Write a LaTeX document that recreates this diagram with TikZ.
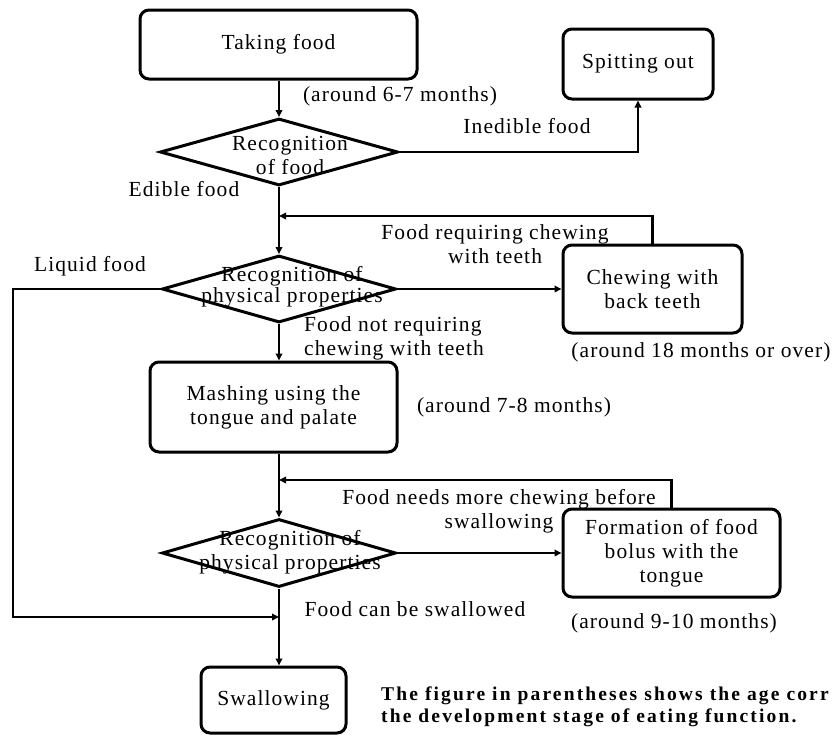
\documentclass[tikz,border=0pt]{standalone}
\usepackage{fontspec}
\setmainfont{Liberation Serif}[LetterSpace=5]
\usetikzlibrary{shapes.geometric,arrows.meta}
\begin{document}
\begin{tikzpicture}[x=1pt,y=-1pt,
  every node/.style={font=\fontsize{21.5}{24}\selectfont, inner sep=0pt},
  box/.style={draw, line width=3pt, rounded corners=9pt, align=center},
  diam/.style={draw, diamond, line width=3pt, inner sep=0pt},
  dtext/.style={align=center},
  lbl/.style={align=center},
  conn/.style={line width=2.8pt, -{Triangle[length=7pt,width=6.5pt]}}
]
\useasboundingbox[fill=white] (0,0) rectangle (835,734);

% boxes
\node[box, minimum width=277pt, minimum height=69pt] (take) at (278.5,44.5) {Taking food};
\node[box, minimum width=150pt, minimum height=70pt] (spit) at (638,64) {Spitting out};
\node[box, minimum width=179pt, minimum height=88pt] (chew) at (652.5,289) {Chewing with\\back teeth};
\node[box, minimum width=247pt, minimum height=90pt] (mash) at (273.5,407) {Mashing using the\\tongue and palate};
\node[box, minimum width=217pt, minimum height=88pt] (form) at (671.5,553) {Formation of food\\bolus with the\\tongue};
\node[box, minimum width=145pt, minimum height=66pt] (swal) at (273.5,700) {Swallowing};

% diamonds
\node[diam, minimum width=238pt, minimum height=67pt] (d1) at (279,152) {};
\node[dtext] (d1t) at (290,155.5) {Recognition\\of food};
\node[diam, minimum width=234pt, minimum height=67pt] (d2) at (279,289) {};
\node[dtext, font=\fontsize{21.5}{21}\selectfont] (d2t) at (292,287) {Recognition of\\physical properties};
\node[diam, minimum width=234pt, minimum height=68pt] (d3) at (279,553) {};
\node[dtext] (d3t) at (290,552) {Recognition of\\physical properties};

% junction coordinates
\coordinate (j1) at (279,216);
\coordinate (j2) at (279,480);
\coordinate (j3) at (279,617);
\coordinate (lq) at (13,289);

% connectors
\draw[conn] (d1.north |- take.south) -- (d1.north);
\draw[conn] (d1.east) -| (spit.south);
\draw[conn] (d1.south) -- (d2.north);
\draw[conn] (chew.north) |- (j1);
\draw[conn] (d2.east) -- (chew.west);
\draw[conn] (d2.west) -- (lq) |- (j3);
\draw[conn] (d2.south) -- (d2.south |- mash.north);
\draw[conn] (d3.north |- mash.south) -- (d3.north);
\draw[conn] (form.north) |- (j2);
\draw[conn] (d3.east) -- (form.west);
\draw[conn] (d3.south) -- (d3.south |- swal.north);

% labels
\node[lbl] (l67) at (400,96) {(around 6-7 months)};
\node[lbl] (lined) at (527,126) {Inedible food};
\node[lbl] (led) at (184,189) {Edible food};
\node[lbl] (lreq) at (495,244) {Food requiring chewing\\with teeth};
\node[lbl] (lliq) at (90,266) {Liquid food};
\node[lbl, align=left, anchor=west] (lnot) at (304,338) {Food not requiring\\chewing with teeth};
\node[lbl] (l18) at (701,352) {(around 18 months or over)};
\node[lbl] (l78) at (514,407) {(around 7-8 months)};
\node[lbl] (lmore) at (499,511) {Food needs more chewing before\\swallowing};
\node[lbl] (l910) at (674,623) {(around 9-10 months)};
\node[lbl] (lcan) at (415,609) {Food can be swallowed};
\node[align=left, anchor=west, font=\fontsize{19.5}{22}\selectfont\bfseries\addfontfeature{LetterSpace=11}] (note) at (381,707) {The figure in parentheses shows the age corr\\the development stage of eating function.};
\end{tikzpicture}
\end{document}
